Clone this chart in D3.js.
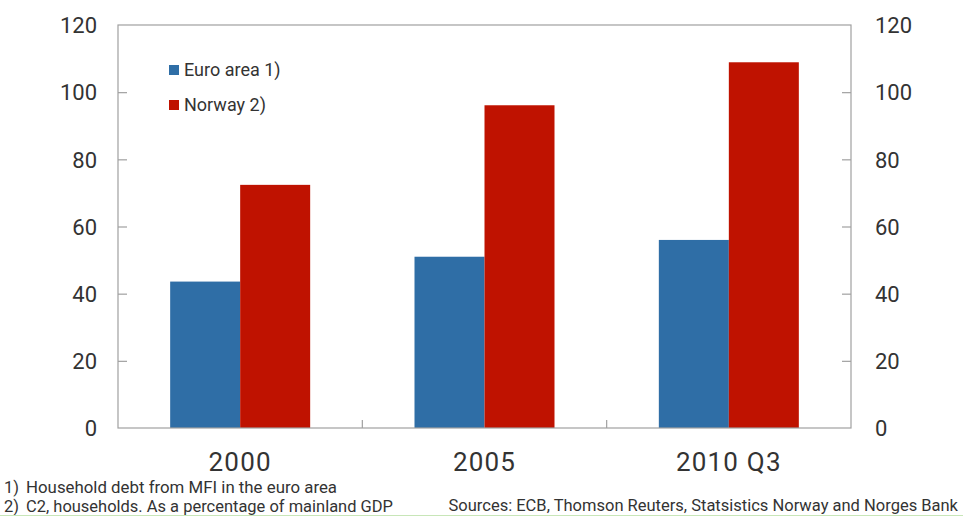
<!DOCTYPE html>
<html>
<head>
<meta charset="utf-8">
<script src="https://cdn.jsdelivr.net/npm/d3@7"></script>
<style>
  html, body { margin: 0; padding: 0; background: #fff; }
  svg { display: block; }
  text { font-family: Roboto, "Liberation Sans", sans-serif; fill: #333; }
</style>
</head>
<body>
<svg id="chart" width="963" height="516"></svg>
<script>
const categories = ["2000", "2005", "2010 Q3"];
const seriesNames = ["Euro area 1)", "Norway 2)"];
const euroArea = [43.6, 51.0, 56.0];
const norway = [72.4, 96.1, 108.9];
const yTicks = [0, 20, 40, 60, 80, 100, 120];
const colors = ["#2f6ea6", "#bf1200"];
const footnoteMarks = ["1)", "2)"];
const footnotes = ["Household debt from MFI in the euro area", "C2, households. As a percentage of mainland GDP"];
const sourceText = "Sources: ECB, Thomson Reuters, Statsistics Norway and Norges Bank";

const svg = d3.select("#chart");
const L = 118, R = 851, T = 25, B = 428;

const x = d3.scaleBand().domain(categories).range([L, R]).paddingInner(0).paddingOuter(0);
const inner = d3.scaleBand().domain(seriesNames)
  .range([x.bandwidth() / 2 - 70, x.bandwidth() / 2 + 70]).paddingInner(0).paddingOuter(0);
const y = d3.scaleLinear().domain([0, 120]).range([B, T]);

const series = [euroArea, norway];

// bars
series.forEach((vals, si) => {
  svg.append("g").selectAll("rect").data(vals).join("rect")
    .attr("x", (d, i) => x(categories[i]) + inner(seriesNames[si]))
    .attr("width", inner.bandwidth())
    .attr("y", d => y(d))
    .attr("height", d => y(0) - y(d))
    .attr("fill", colors[si]);
});

// frame
const axisColor = "#a0a0a0";
svg.append("rect").attr("x", L).attr("y", T).attr("width", R - L).attr("height", B - T)
  .attr("fill", "none").attr("stroke", axisColor).attr("stroke-width", 1.2);

// left axis
const leftAxis = d3.axisLeft(y).tickValues(yTicks).tickSize(-9).tickPadding(21).tickFormat(d3.format("d"));
const gl = svg.append("g").attr("transform", `translate(${L},0)`).call(leftAxis);
gl.select(".domain").remove();
gl.selectAll(".tick line").attr("stroke", axisColor).attr("stroke-width", 1.2).filter(d => d === 0 || d === 120).remove();
gl.selectAll(".tick text").attr("font-size", 22).style("fill", "#333").attr("dy", "0.35em");

// right axis
const rightAxis = d3.axisRight(y).tickValues(yTicks).tickSize(-9).tickPadding(24).tickFormat(d3.format("d"));
const gr = svg.append("g").attr("transform", `translate(${R},0)`).call(rightAxis);
gr.select(".domain").remove();
gr.selectAll(".tick line").attr("stroke", axisColor).attr("stroke-width", 1.2).filter(d => d === 0 || d === 120).remove();
gr.selectAll(".tick text").attr("font-size", 22).style("fill", "#333").attr("dy", "0.35em");

// bottom axis: ticks at category boundaries
const boundaries = categories.slice(1).map(c => x(c));
svg.append("g").selectAll("line").data(boundaries).join("line")
  .attr("x1", d => d).attr("x2", d => d).attr("y1", B).attr("y2", B - 8)
  .attr("stroke", axisColor).attr("stroke-width", 1.2);
svg.append("g").selectAll("text").data(categories).join("text")
  .attr("x", d => x(d) + x.bandwidth() / 2)
  .attr("y", 471)
  .attr("text-anchor", "middle")
  .attr("font-size", 26)
  .attr("letter-spacing", 1.2)
  .text(d => d);

// legend
const lg = svg.append("g");
seriesNames.forEach((n, i) => {
  const cy = 70 + i * 35;
  lg.append("rect").attr("x", 169).attr("y", cy - 5).attr("width", 10).attr("height", 10).attr("fill", colors[i]);
  lg.append("text").attr("x", 184).attr("y", cy).attr("dy", "0.35em").attr("font-size", 18).text(n);
});

// footnotes
const fg = svg.append("g");
footnotes.forEach((f, i) => {
  const yy = 493 + i * 19;
  fg.append("text").attr("x", 4).attr("y", yy).attr("font-size", 16.5).text(footnoteMarks[i]);
  fg.append("text").attr("x", 26).attr("y", yy).attr("font-size", 16.5).attr("textLength", i === 0 ? 311 : 367)
    .attr("lengthAdjust", "spacingAndGlyphs").text(f);
});
svg.append("text").attr("x", 958).attr("y", 511).attr("text-anchor", "end")
  .attr("font-size", 16.5).text(sourceText);

// faint bottom line
svg.append("line").attr("x1", 0).attr("x2", 963).attr("y1", 515.5).attr("y2", 515.5)
  .attr("stroke", "#c8e6b8").attr("stroke-width", 1);
</script>
</body>
</html>
